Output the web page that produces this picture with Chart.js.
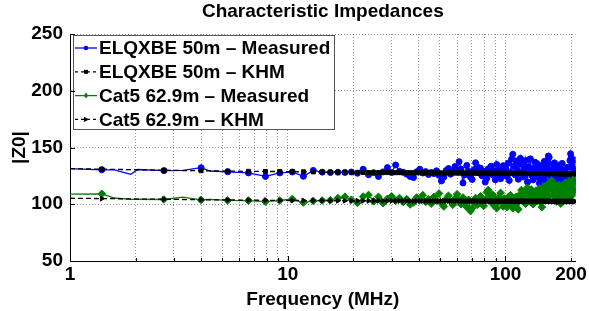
<!DOCTYPE html>
<html>
<head>
<meta charset="utf-8">
<script src="https://cdn.jsdelivr.net/npm/chart.js@4/dist/chart.umd.min.js"></script>
<style>
html,body{margin:0;padding:0;background:#fff;}
#c{display:block;}
</style>
</head>
<body>
<canvas id="c" width="589" height="311"></canvas>
<script>
// ---------------- DATA ----------------
const freqMHz = [
  1.0, 1.4, 1.6, 1.9, 2.05, 2.7, 3.3, 4.0, 4.4, 5.3, 6.6, 7.9, 9.2, 10.5, 11.8, 13.1, 14.4, 15.7, 17.0, 18.3, 19.6,
  20.9, 22.2, 23.5, 24.8, 26.1, 27.4, 28.7, 30.0, 31.3, 32.6, 33.9, 35.2, 36.5, 37.8, 39.1, 40.4, 41.7, 43.0, 44.3, 45.6,
  46.9, 48.2, 49.5, 50.8, 52.1, 53.4, 54.7, 56.0, 57.3, 58.6, 59.9, 61.2, 62.5, 63.8, 65.1, 66.4, 67.7, 69.0, 70.3, 71.6,
  72.9, 74.2, 75.5, 76.8, 78.1, 79.4, 80.7, 82.0, 83.3, 84.6, 85.9, 87.2, 88.5, 89.8, 91.1, 92.4, 93.7, 95.0, 96.3, 97.6, 98.9,
  100.2, 101.5, 102.8, 104.1, 105.4, 106.7, 108.0, 109.3, 110.6, 111.9, 113.2, 114.5, 115.8, 117.1, 118.4, 119.7, 121.0, 122.3,
  123.6, 124.9, 126.2, 127.5, 128.8, 130.1, 131.4, 132.7, 134.0, 135.3, 136.6, 137.9, 139.2, 140.5, 141.8, 143.1, 144.4, 145.7,
  147.0, 148.3, 149.6, 150.9, 152.2, 153.5, 154.8, 156.1, 157.4, 158.7, 160.0, 161.3, 162.6, 163.9, 165.2, 166.5, 167.8, 169.1,
  170.4, 171.7, 173.0, 174.3, 175.6, 176.9, 178.2, 179.5, 180.8, 182.1, 183.4, 184.7, 186.0, 187.3, 188.6, 189.9, 191.2, 192.5,
  193.8, 195.1, 196.4, 197.7, 199.0, 200.3, 201.6, 202.9, 204.2, 205.5, 206.8, 208.1, 209.4
];
// frequencies that are part of the measured traces but carry no marker
const lineOnlyMHz = [1.0, 1.6, 1.9, 2.05, 3.3, 4.4];

const elqMeasured = [
  131.4, 130.3, 130.2, 126.4, 130.6, 129.6, 129.8, 132.2, 129.3, 128.6, 127.6, 124.5, 127.6, 128.4, 124.6, 129.8, 128.3, 128.0, 128.2, 128.0, 128.4,
  127.3, 130.9, 126.0, 127.8, 124.4, 128.5, 132.3, 128.0, 134.6, 129.0, 128.2, 126.5, 124.4, 123.5, 128.6, 130.9, 127.5, 128.8, 126.2, 128.0,
  127.0, 129.5, 125.5, 120.5, 124.0, 129.8, 131.5, 126.5, 128.8, 133.2, 130.0, 137.5, 131.0, 118.8, 126.0, 134.2, 129.0, 124.0, 121.8, 130.5,
  136.5, 133.0, 127.5, 131.8, 125.0, 129.0, 119.5, 122.8, 131.2, 128.0, 133.5, 126.0, 129.5, 121.5, 135.0, 125.5, 130.5, 122.5, 128.0, 134.0, 126.5,
  131.0, 124.5, 136.2, 121.0, 128.5, 139.8, 144.0, 133.5, 126.0, 138.2, 130.0, 122.0, 135.5, 140.5, 128.0, 136.8, 124.0, 131.5,
  138.5, 127.0, 119.5, 133.0, 139.5, 140.0, 130.5, 125.0, 121.5, 132.0, 137.0, 128.5, 136.0, 131.0, 123.5, 118.5, 127.0, 134.0,
  129.5, 122.5, 131.5, 137.8, 126.0, 120.0, 133.5, 138.0, 142.5, 141.5, 130.0, 124.5, 119.0, 127.5, 135.5, 131.0, 136.5, 125.5,
  120.5, 118.5, 129.0, 134.5, 126.0, 121.0, 131.5, 127.5, 123.0, 136.0, 128.5, 117.5, 124.0, 130.0, 121.5, 126.5, 119.0, 132.5,
  125.0, 116.5, 123.0, 138.5, 144.5, 141.0, 135.0, 126.0, 120.0, 131.0, 124.5, 139.0, 129.0
];
const elqKHM = [
  131.3, 130.9, 130.7, 130.5, 130.4, 130.0, 129.7, 129.5, 129.4, 129.2, 129.0, 128.9, 128.8, 128.7, 128.6, 128.5, 128.4, 128.3, 128.2, 128.2, 128.1,
  128.1, 128.0, 128.0, 128.0, 127.9, 127.9, 127.9, 127.9, 127.8, 127.8, 127.8, 127.8, 127.8, 127.7, 127.7, 127.7, 127.7, 127.7, 127.6, 127.6,
  127.6, 127.6, 127.6, 127.6, 127.6, 127.6, 127.6, 127.6, 127.6, 127.6, 127.5, 127.5, 127.5, 127.5, 127.5, 127.5, 127.5, 127.5, 127.5, 127.5,
  127.4, 127.4, 127.4, 127.4, 127.4, 127.4, 127.4, 127.4, 127.4, 127.4, 127.3, 127.3, 127.3, 127.3, 127.3, 127.3, 127.3, 127.3, 127.3, 127.3, 127.3,
  127.2, 127.2, 127.2, 127.2, 127.2, 127.2, 127.2, 127.2, 127.2, 127.2, 127.2, 127.2, 127.2, 127.2, 127.2, 127.2, 127.2, 127.2,
  127.2, 127.2, 127.1, 127.1, 127.1, 127.1, 127.1, 127.1, 127.1, 127.1, 127.1, 127.1, 127.1, 127.1, 127.1, 127.1, 127.1, 127.1,
  127.1, 127.1, 127.1, 127.1, 127.0, 127.0, 127.0, 127.0, 127.0, 127.0, 127.0, 127.0, 127.0, 127.0, 127.0, 127.0, 127.0, 127.0,
  127.0, 127.0, 127.0, 127.0, 127.0, 127.0, 126.9, 126.9, 126.9, 126.9, 126.9, 126.9, 126.9, 126.9, 126.9, 126.9, 126.9, 126.9,
  126.9, 126.9, 126.9, 126.9, 126.9, 126.9, 126.9, 126.9, 126.9, 126.9, 126.9, 126.9, 126.9
];
const cat5Measured = [
  109.0, 109.2, 105.5, 104.3, 104.4, 104.2, 106.2, 103.8, 104.3, 103.4, 103.2, 102.3, 103.3, 104.6, 101.5, 103.0, 103.3, 103.6, 105.4, 106.6, 104.0,
  101.2, 106.8, 108.2, 102.5, 106.5, 101.0, 104.8, 107.0, 103.0, 105.5, 102.0, 104.5, 99.8, 101.5, 106.0, 103.8, 108.0, 102.0, 104.5, 100.5,
  106.5, 103.0, 109.5, 101.0, 98.0, 104.5, 107.5, 102.5, 99.5, 105.0, 108.8, 103.5, 100.0, 106.0, 102.0, 97.5, 104.0, 94.0, 96.5, 101.5,
  105.5, 99.5, 103.5, 107.0, 101.0, 98.5, 104.0, 110.5, 112.5, 106.0, 102.0, 108.5, 99.0, 104.5, 96.5, 101.5, 106.5, 110.0, 103.0, 98.0, 105.0,
  103.5, 97.5, 106.0, 100.5, 108.0, 102.0, 96.5, 104.5, 99.5, 106.5, 101.0, 95.5, 103.0, 109.0, 112.5, 107.5, 110.5, 104.0,
  100.5, 111.5, 114.5, 108.0, 102.5, 110.0, 113.0, 106.5, 100.0, 104.5, 109.5, 112.0, 107.0, 103.0, 110.5, 114.0, 108.5, 101.5,
  97.5, 105.0, 111.0, 115.5, 109.0, 104.0, 112.5, 117.5, 113.0, 107.0, 116.0, 119.5, 121.0, 114.5, 108.5, 111.5, 118.0, 115.0,
  106.0, 102.5, 109.5, 113.5, 117.0, 110.5, 104.5, 100.5, 107.5, 112.0, 116.5, 113.0, 108.0, 114.5, 119.0, 115.5, 110.0, 104.5,
  111.5, 117.0, 120.5, 118.0, 112.5, 107.0, 113.5, 118.5, 121.5, 116.0, 112.0, 119.5, 110.5
];
const cat5KHM = [
  105.3, 105.0, 104.9, 104.7, 104.6, 104.4, 104.2, 104.0, 103.9, 103.8, 103.6, 103.5, 103.4, 103.3, 103.3, 103.2, 103.2, 103.1, 103.1, 103.1, 103.0,
  103.0, 103.0, 103.0, 103.0, 103.0, 103.0, 103.0, 103.0, 103.0, 103.0, 102.9, 102.9, 102.9, 102.9, 102.9, 102.9, 102.9, 102.9, 102.9, 102.9,
  102.9, 102.9, 102.9, 102.9, 102.9, 102.9, 102.9, 102.9, 102.9, 102.9, 102.8, 102.8, 102.8, 102.8, 102.8, 102.8, 102.8, 102.8, 102.8, 102.8,
  102.8, 102.8, 102.8, 102.8, 102.8, 102.7, 102.7, 102.7, 102.7, 102.7, 102.7, 102.7, 102.7, 102.7, 102.7, 102.7, 102.7, 102.7, 102.7, 102.7, 102.7,
  102.7, 102.7, 102.7, 102.7, 102.7, 102.7, 102.7, 102.7, 102.7, 102.7, 102.7, 102.7, 102.7, 102.7, 102.7, 102.7, 102.7, 102.7,
  102.7, 102.7, 102.6, 102.6, 102.6, 102.6, 102.6, 102.6, 102.6, 102.6, 102.6, 102.6, 102.6, 102.6, 102.6, 102.6, 102.6, 102.6,
  102.6, 102.6, 102.6, 102.6, 102.6, 102.6, 102.6, 102.6, 102.6, 102.6, 102.6, 102.6, 102.6, 102.6, 102.5, 102.5, 102.5, 102.5,
  102.5, 102.5, 102.5, 102.5, 102.5, 102.5, 102.5, 102.5, 102.5, 102.5, 102.5, 102.5, 102.5, 102.5, 102.5, 102.5, 102.5, 102.5,
  102.5, 102.5, 102.5, 102.5, 102.5, 102.5, 102.5, 102.5, 102.5, 102.5, 102.5, 102.5, 102.5
];

const chartTitle = 'Characteristic Impedances';
const seriesNames = ['ELQXBE 50m \u2013 Measured', 'ELQXBE 50m \u2013 KHM', 'Cat5 62.9m \u2013 Measured', 'Cat5 62.9m \u2013 KHM'];
const xGridMHz = [1, 2, 3, 4, 5, 6, 7, 8, 9, 10, 20, 30, 40, 50, 60, 70, 80, 90, 100, 200];
const xTickLabels = [1, 10, 100, 200];
const yTickValues = [50, 100, 150, 200, 250];

// ---------------- CHART ----------------
const FONT = '"Liberation Sans", Arial, Helvetica, sans-serif';
Chart.defaults.font.family = FONT;
Chart.defaults.color = '#000';

const toPts = (vals) => freqMHz.map((f, i) => ({x: f, y: vals[i]}));
const markR = (r) => (ctx) => {
  const raw = ctx.raw;
  return raw && lineOnlyMHz.includes(raw.x) ? 0 : r;
};

const styles = [
  {color: '#0000ff', dash: [], shape: 'circle', r: 3.0, rot: 0, width: 1.3},
  {color: '#000000', dash: [5, 3], shape: 'rect', r: 2.8, rot: 0, width: 1.3},
  {color: '#008000', dash: [], shape: 'rectRot', r: 3.8, rot: 0, width: 1.3},
  {color: '#000000', dash: [5, 3], shape: 'triangle', r: 2.8, rot: 90, width: 1.3}
];
const seriesVals = [elqMeasured, elqKHM, cat5Measured, cat5KHM];
const drawOrder = [4, 3, 2, 1];

const datasets = seriesVals.map((vals, i) => ({
  label: seriesNames[i],
  data: toPts(vals),
  borderColor: styles[i].color,
  backgroundColor: styles[i].color,
  borderWidth: styles[i].width,
  borderDash: styles[i].dash,
  pointStyle: styles[i].shape,
  pointRotation: styles[i].rot,
  pointRadius: markR(styles[i].r),
  pointBorderWidth: 1,
  pointBorderColor: styles[i].color,
  pointBackgroundColor: styles[i].color,
  tension: 0,
  order: drawOrder[i]
}));

// title centred over the axes (MATLAB style)
const axesTitle = {
  id: 'axesTitle',
  afterDraw(chart) {
    const {ctx, chartArea} = chart;
    ctx.save();
    ctx.font = 'bold 19px ' + FONT;
    ctx.fillStyle = '#000';
    ctx.textAlign = 'center';
    ctx.textBaseline = 'middle';
    ctx.fillText(chartTitle, (chartArea.left + chartArea.right) / 2, 12);
    ctx.restore();
  }
};

// legend drawn as a MATLAB-style boxed legend inside the axes
const boxLegend = {
  id: 'boxLegend',
  afterDatasetsDraw(chart) {
    const {ctx, chartArea} = chart;
    const L = chartArea.left + 3, T = chartArea.top + 1, W = 261, H = 94;
    ctx.save();
    ctx.fillStyle = '#fff';
    ctx.fillRect(L, T, W, H);
    ctx.strokeStyle = '#555';
    ctx.lineWidth = 1;
    ctx.strokeRect(L + 0.5, T + 0.5, W, H);
    ctx.font = 'bold 19px ' + FONT;
    ctx.textBaseline = 'middle';
    ctx.textAlign = 'left';
    for (let i = 0; i < 4; i++) {
      const s = styles[i];
      const y = T + 13 + i * 23.8;
      ctx.strokeStyle = s.color;
      ctx.fillStyle = s.color;
      ctx.lineWidth = 1.3;
      ctx.setLineDash(s.dash.length ? [3, 3] : []);
      ctx.beginPath();
      ctx.moveTo(L + 2, y);
      ctx.lineTo(L + 24, y);
      ctx.stroke();
      ctx.setLineDash([]);
      const cx = L + 13;
      ctx.beginPath();
      if (s.shape === 'circle') {
        ctx.arc(cx, y, 2.3, 0, Math.PI * 2);
      } else if (s.shape === 'rect') {
        ctx.rect(cx - 2, y - 2, 4, 4);
      } else if (s.shape === 'rectRot') {
        ctx.moveTo(cx, y - 3); ctx.lineTo(cx + 2.2, y); ctx.lineTo(cx, y + 3); ctx.lineTo(cx - 2.2, y); ctx.closePath();
      } else {
        ctx.moveTo(cx + 3, y); ctx.lineTo(cx - 2, y - 2.6); ctx.lineTo(cx - 2, y + 2.6); ctx.closePath();
      }
      ctx.fill();
      ctx.fillStyle = '#000';
      ctx.fillText(seriesNames[i], L + 26, y + 1);
    }
    ctx.restore();
  }
};

// inward tick marks like MATLAB axes
const innerTicks = {
  id: 'innerTicks',
  afterDraw(chart) {
    const {ctx, chartArea, scales} = chart;
    ctx.save();
    ctx.strokeStyle = '#000';
    ctx.lineWidth = 1;
    ctx.beginPath();
    scales.x.ticks.forEach(t => {
      const px = Math.round(scales.x.getPixelForValue(t.value)) + 0.5;
      const len = xTickLabels.includes(t.value) && t.value !== 200 ? 5 : 3;
      ctx.moveTo(px, chartArea.bottom);
      ctx.lineTo(px, chartArea.bottom - len);
    });
    scales.y.ticks.forEach(t => {
      const py = Math.round(scales.y.getPixelForValue(t.value)) + 0.5;
      ctx.moveTo(chartArea.left, py);
      ctx.lineTo(chartArea.left + 5, py);
    });
    ctx.stroke();
    ctx.restore();
  }
};

const gridCol = 'rgba(0,0,0,0.42)';
const labelFont = {family: FONT, size: 19, weight: 'bold'};

new Chart(document.getElementById('c'), {
  type: 'line',
  data: {datasets},
  plugins: [boxLegend, innerTicks, axesTitle],
  options: {
    responsive: false,
    animation: false,
    devicePixelRatio: 1,
    layout: {padding: {left: 0, right: 12, top: 34, bottom: 0}},
    plugins: {
      legend: {display: false},
      tooltip: {enabled: false},
      title: {display: false}
    },
    scales: {
      x: {
        type: 'logarithmic',
        min: 1,
        max: 210,
        afterBuildTicks: (ax) => { ax.ticks = xGridMHz.map(v => ({value: v})); },
        afterFit: (s) => { s.height = 50; },
        ticks: {
          autoSkip: false,
          maxRotation: 0,
          minRotation: 0,
          padding: 2,
          color: '#000',
          font: labelFont,
          callback: (v) => xTickLabels.includes(v) ? String(v) : ''
        },
        grid: {color: gridCol, lineWidth: 1, drawTicks: false},
        border: {display: true, color: '#000', width: 1, dash: [1, 2]},
        title: {display: true, text: 'Frequency (MHz)', color: '#000', font: labelFont, padding: {top: 3, bottom: 0}}
      },
      y: {
        type: 'linear',
        min: 50,
        max: 250,
        afterBuildTicks: (ax) => { ax.ticks = yTickValues.map(v => ({value: v})); },
        afterFit: (s) => { s.width = 70; },
        ticks: {padding: 7, color: '#000', font: labelFont},
        grid: {color: gridCol, lineWidth: 1, drawTicks: false},
        border: {display: true, color: '#000', width: 1, dash: [1, 2]},
        title: {display: true, text: '|Z0|', color: '#000', font: labelFont, padding: {top: 8, bottom: 0}}
      }
    }
  }
});
</script>
</body>
</html>
